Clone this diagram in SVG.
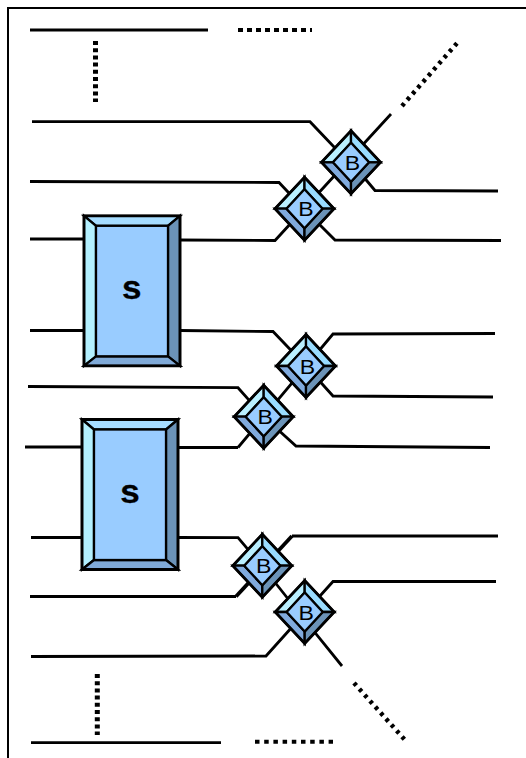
<svg xmlns="http://www.w3.org/2000/svg" width="526" height="758" viewBox="0 0 526 758">
<style>
.c{fill:none;stroke:#000;stroke-width:2.8;stroke-linejoin:miter}
.d{fill:none;stroke:#000}
.e{stroke:#000;stroke-width:2.3;stroke-linejoin:miter}
.k{fill:none;stroke:#000;stroke-width:2.8}
.tl{fill:#b9efff}.tr{fill:#99dcff}.bl{fill:#80aadd}.br{fill:#6b93b8}.m{fill:#99ccff}
.t{fill:#a6dcff}.l{fill:#b3f0ff}.r{fill:#6b93b8}.b{fill:#80aad8}
.bt{font-family:"Liberation Sans",Arial,sans-serif;font-size:21px;text-anchor:middle;fill:#000}
.st{font-family:"Liberation Sans",Arial,sans-serif;font-size:34px;font-weight:bold;text-anchor:middle;fill:#000;stroke:#000;stroke-width:.3}
</style>
<defs>
<g id="dia">
<path class="tl e" d="M0,-31.5L-29.5,0L-18,0L0,-19.5Z"/>
<path class="tr e" d="M0,-31.5L29.5,0L18,0L0,-19.5Z"/>
<path class="bl e" d="M0,31.5L-29.5,0L-18,0L0,19.5Z"/>
<path class="br e" d="M0,31.5L29.5,0L18,0L0,19.5Z"/>
<path class="m e" d="M0,-19.5L18,0L0,19.5L-18,0Z"/>
<path class="k" d="M0,-31.5L29.5,0L0,31.5L-29.5,0Z"/>
<text class="bt" transform="translate(1.5,7.5) scale(1.1,1)">B</text>
</g>
<g id="box">
<path class="t e" d="M0,0H96L84,10H12Z"/>
<path class="l e" d="M0,0L12,10V140.5L0,150Z"/>
<path class="r e" d="M96,0L84,10V140.5L96,150Z"/>
<path class="b e" d="M0,150L12,140.5H84L96,150Z"/>
<rect class="m e" x="12" y="10" width="72" height="130.5"/>
<path class="k" d="M0,0H96V150H0Z"/>
</g>
</defs>
<path id="frame" d="M8,758V8H526" fill="none" stroke="#000" stroke-width="2"/>
<g id="connectors">
<path class="c" d="M30,30H208"/>
<path class="d" stroke-width="4" stroke-dasharray="5 4" d="M238,30H312"/>
<path class="d" stroke-width="5" stroke-dasharray="4 3.2" d="M95.5,41V102"/>
<path class="c" d="M32,121.7H310L335,148"/>
<path class="d" stroke-width="4.5" stroke-dasharray="3.5 4.5" d="M402,106L458,42"/>
<path class="c" d="M30,181.5L279,182.5L304,209"/>
<path class="c" d="M30,239H84"/>
<path class="c" d="M180,240L275,240.5L391,114"/>
<path class="c" d="M351,162L375,190.5L498,191"/>
<path class="c" d="M304,209L335,240L501,240.5"/>
<path class="c" d="M30,330.5H84"/>
<path class="c" d="M180,330.5L273,331.5L306,366"/>
<path class="c" d="M238,447.5L333,334L495,333.5"/>
<path class="c" d="M306,366L333,396L493,397"/>
<path class="c" d="M28,386.5L238,387.7L264,417"/>
<path class="c" d="M264,417L296,446L490,447.5"/>
<path class="c" d="M25,447H82"/>
<path class="c" d="M178,447.5H238"/>
<path class="c" d="M31,537.5H82"/>
<path class="c" d="M178,537.5L238,537.7L262,566"/>
<path class="c" d="M262,566L304,619L342,666"/>
<path class="c" d="M30,596.5H236"/>
<path class="c" style="stroke-width:3.8" d="M236,596.5L292,536"/>
<path class="c" d="M292,536H498"/>
<path class="c" d="M31,656.5L266,656L333,581.5L496,581.5"/>
<path class="d" stroke-width="4.5" stroke-dasharray="3.5 4.5" d="M354,683L405,740"/>
<path class="d" stroke-width="5" stroke-dasharray="4 3.2" d="M97.3,674V735"/>
<path class="c" d="M31,742.7H221"/>
<path class="d" stroke-width="4" stroke-dasharray="4.5 4.7" d="M255,741.7H333"/>
</g>
<g id="s1"><use href="#box" x="84" y="215.8"/><text class="st" transform="translate(131.7,299) scale(1.03,1)">s</text></g>
<g id="s2"><use href="#box" x="82" y="419.5"/><text class="st" transform="translate(130,502.7) scale(1.03,1)">s</text></g>
<g id="b1"><use href="#dia" x="351" y="162.3"/></g>
<g id="b2"><use href="#dia" x="304.5" y="208.7"/></g>
<g id="b3"><use href="#dia" x="306" y="366"/></g>
<g id="b4"><use href="#dia" x="263.7" y="416.7"/></g>
<g id="b5"><use href="#dia" x="262.3" y="565.7"/></g>
<g id="b6"><use href="#dia" x="304.7" y="612"/></g>
</svg>
